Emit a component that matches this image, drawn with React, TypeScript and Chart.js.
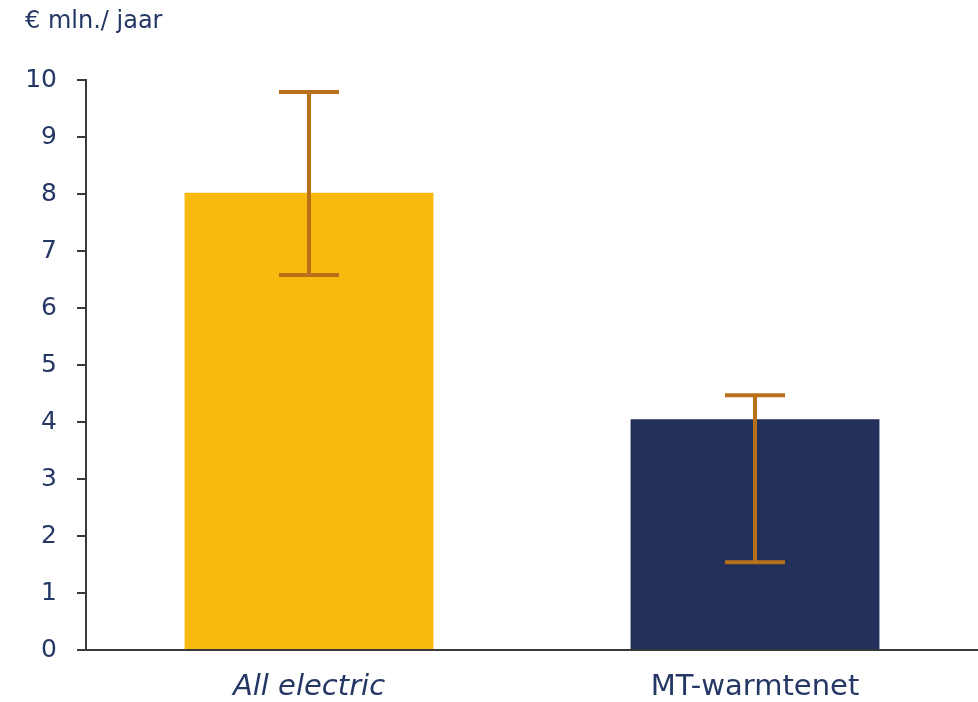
import React, { useEffect, useRef } from "react";
import { Chart, registerables } from "chart.js";

Chart.register(...registerables);

const categories = ["All electric", "MT-warmtenet"];
const values = [8.02, 4.05];
const errLow = [6.58, 1.54];
const errHigh = [9.79, 4.47];
const yTicks = [0, 1, 2, 3, 4, 5, 6, 7, 8, 9, 10];
const barColors = ["#FAB90F", "#22305A"];
const unitLabel = "€ mln./ jaar";

const TEXT = "#253764";
const AXIS = "#3a3a3a";
const ERR = "#B8701A";
const FONT = "'DejaVu Sans', Verdana, sans-serif";

const errorBarPlugin = {
  id: "errorBars",
  afterDatasetsDraw(chart: any) {
    const ctx = chart.ctx;
    const meta = chart.getDatasetMeta(0);
    const y = chart.scales.y;
    ctx.save();
    ctx.strokeStyle = ERR;
    ctx.lineWidth = 4;
    meta.data.forEach((bar: any, i: number) => {
      const x = bar.x;
      const yl = y.getPixelForValue(errLow[i]);
      const yh = y.getPixelForValue(errHigh[i]);
      const cap = 30;
      ctx.beginPath();
      ctx.moveTo(x, yl);
      ctx.lineTo(x, yh);
      ctx.moveTo(x - cap, yh);
      ctx.lineTo(x + cap, yh);
      ctx.moveTo(x - cap, yl);
      ctx.lineTo(x + cap, yl);
      ctx.stroke();
    });
    ctx.restore();
  },
};

const titlePlugin = {
  id: "unitTitle",
  afterDraw(chart: any) {
    const ctx = chart.ctx;
    ctx.save();
    ctx.fillStyle = TEXT;
    ctx.font = `24px ${FONT}`;
    ctx.textBaseline = "alphabetic";
    ctx.textAlign = "left";
    ctx.fillText(unitLabel, 25, 28);
    ctx.restore();
  },
};

export default function App() {
  const ref = useRef<HTMLCanvasElement>(null);
  useEffect(() => {
    document.body.style.margin = "0";
    const chart = new Chart(ref.current!, {
      type: "bar",
      data: {
        labels: categories,
        datasets: [
          {
            data: values,
            backgroundColor: barColors,
            categoryPercentage: 1,
            barPercentage: 0.558,
          },
        ],
      },
      options: {
        animation: false,
        responsive: false,
        layout: { padding: { top: 80, right: -2, left: 0, bottom: 0 } },
        plugins: { legend: { display: false }, tooltip: { enabled: false } },
        scales: {
          x: {
            grid: { display: false },
            border: { display: true, color: AXIS, width: 2 },
            ticks: {
              color: TEXT,
              padding: 12,
              font: (c: any) => ({
                family: FONT,
                size: 29,
                style: c.index === 0 ? "italic" : "normal",
              }),
            },
            afterFit(s: any) {
              s.height = 52;
            },
          },
          y: {
            min: 0,
            max: 10,
            afterBuildTicks(s: any) {
              s.ticks = yTicks.map((v) => ({ value: v }));
            },
            grid: {
              drawOnChartArea: false,
              drawTicks: true,
              tickLength: 9,
              color: AXIS,
              lineWidth: 2,
            },
            border: { display: true, color: AXIS, width: 2 },
            ticks: {
              color: TEXT,
              padding: 20,
              font: { family: FONT, size: 25 },
            },
            afterFit(s: any) {
              s.width = 86;
            },
          },
        },
      },
      plugins: [errorBarPlugin, titlePlugin],
    });
    return () => chart.destroy();
  }, []);
  return (
    <div style={{ position: "fixed", left: 0, top: 0, width: 978, height: 702, background: "#fff" }}>
      <canvas ref={ref} width={978} height={702} />
    </div>
  );
}
